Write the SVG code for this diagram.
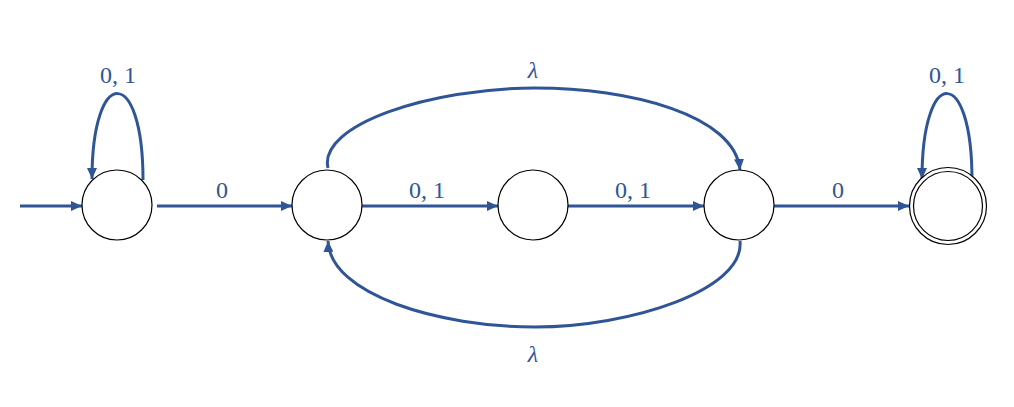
<svg xmlns="http://www.w3.org/2000/svg" width="1014" height="407" viewBox="0 0 1014 407">
<style>
.st{fill:#fff;stroke:#000;stroke-width:1.2}
.e{fill:none;stroke:#2F5597;stroke-width:3}
.l{font-family:"Liberation Serif","DejaVu Serif",serif;font-size:24px;fill:#2F5597;text-anchor:middle}
.lam{font-style:italic}
</style>
<defs>
<marker id="ah" markerUnits="userSpaceOnUse" markerWidth="12" markerHeight="10" refX="11" refY="5" orient="auto">
<path d="M0,0 L11,5 L0,10 Z" fill="#2F5597"/>
</marker>
</defs>
<g id="connectors">
<path class="e" d="M20,206 L82,206" marker-end="url(#ah)"/>
<path class="e" d="M143,180 C143,65 92,65 92,179" marker-end="url(#ah)"/>
<path class="e" d="M157,206 L292,206" marker-end="url(#ah)"/>
<path class="e" d="M362,206 L498,206" marker-end="url(#ah)"/>
<path class="e" d="M568,206 L704,206" marker-end="url(#ah)"/>
<path class="e" d="M774,206 L909,206" marker-end="url(#ah)"/>
<path class="e" d="M972,180 C972,65 922,65 922,179" marker-end="url(#ah)"/>
<path class="e" d="M328,168 C318,125 430,88 535,88 C630,88 735,115 740,170" marker-end="url(#ah)"/>
<path class="e" d="M740,241 C745,290 630,327 535,327 C440,327 330,295 328,241" marker-end="url(#ah)"/>
</g>
<g id="n1"><circle class="st" cx="117" cy="205" r="35"/></g>
<g id="n2"><circle class="st" cx="327" cy="205" r="35"/></g>
<g id="n3"><circle class="st" cx="533" cy="205" r="35"/></g>
<g id="n4"><circle class="st" cx="739" cy="205" r="35"/></g>
<g id="n5"><circle class="st" cx="948" cy="206" r="38.5"/><circle class="st" cx="948" cy="206" r="34.5"/></g>
<g id="labels">
<text class="l" x="118" y="83">0, 1</text>
<text class="l" x="222" y="198">0</text>
<text class="l" x="427" y="198">0, 1</text>
<text class="l" x="633" y="198">0, 1</text>
<text class="l" x="838" y="198">0</text>
<text class="l" x="947" y="83">0, 1</text>
<text class="l lam" x="533" y="78">λ</text>
<text class="l lam" x="533" y="362">λ</text>
</g>
</svg>
